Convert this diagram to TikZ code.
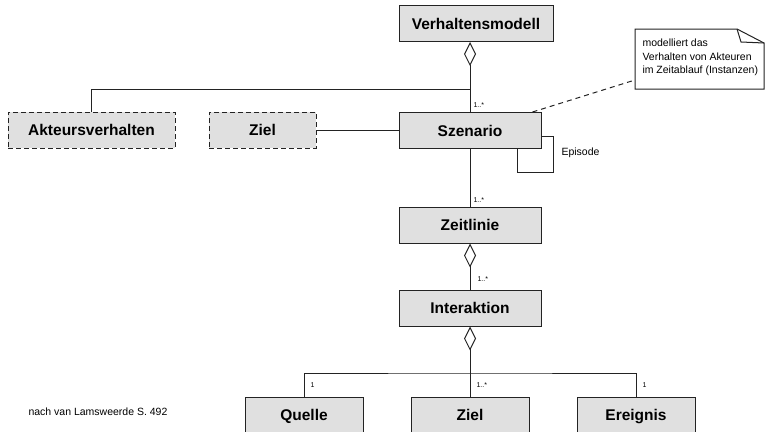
\documentclass[tikz,border=0pt]{standalone}
\usepackage{fontspec}
\setmainfont{Liberation Sans}
\usetikzlibrary{arrows.meta}
\definecolor{boxgray}{RGB}{224,224,224}
\definecolor{linegray}{RGB}{35,35,35}

\tikzset{
  classbox/.style={draw=linegray, fill=boxgray, line width=1pt, minimum height=36pt,
    inner sep=0pt, text height=11pt, text depth=0pt, font=\fontsize{15.5}{18}\selectfont\bfseries},
  dashbox/.style={classbox, dash pattern=on 5pt off 3pt},
  agg/.style={{Diamond[open,length=24pt,width=12pt]}-},
  mult/.style={font=\fontsize{7}{8}\selectfont, anchor=west, inner sep=0pt},
  smalltext/.style={font=\fontsize{10.5}{13.5}\selectfont, anchor=west, inner sep=0pt, align=left},
}

\begin{document}
\begin{tikzpicture}[x=1pt, y=-1pt, line width=1pt, draw=linegray]
\useasboundingbox (0,0) rectangle (765,431);
\clip (0,0) rectangle (765,431);
% classes
\node[classbox, minimum width=154pt] (vm) at (476,23.5) {Verhaltensmodell};
\node[classbox, minimum width=142pt] (sz) at (470,130.5) {Szenario};
\node[dashbox, minimum width=167pt] (av) at (91.5,130) {Akteursverhalten};
\node[dashbox, minimum width=107pt] (zi) at (262.5,130) {Ziel};
\node[classbox, minimum width=142pt] (zl) at (470,225) {Zeitlinie};
\node[classbox, minimum width=142pt] (ia) at (470,308) {Interaktion};
\node[classbox, minimum width=118pt] (qu) at (304,415) {Quelle};
\node[classbox, minimum width=118pt] (zb) at (470,415) {Ziel};
\node[classbox, minimum width=118pt] (er) at (636,415) {Ereignis};

% note
\draw[fill=white] (635,29) -- (737,29) -- (764,43) -- (764,89) -- (635,89) -- cycle;
\draw (737,29) -- (741,42) -- (764,43);
\node[smalltext] (note) at (642,57.5) {modelliert das\\Verhalten von Akteuren\\im Zeitablauf (Instanzen)};
\coordinate (noteleft) at (635,80);
\draw[dash pattern=on 5pt off 4pt] ([xshift=-9pt]sz.north east) -- (noteleft);

% Verhaltensmodell - Szenario / Akteursverhalten
\coordinate (j1) at (470,89);
\draw[agg] (sz.north |- vm.south) -- (sz.north);
\draw (j1) -| (av.north);
\draw (zi.east) -- (zi.east -| sz.west);
\node[mult] (m1) at (473,105) {1..*};

% Episode
\draw (sz.east) ++(0,5.5) -- ++(12,0) -- ++(0,36) -| ([xshift=-24pt]sz.south east);
\node[smalltext] (ep) at (561,153) {Episode};

% Zeitlinie, Interaktion
\draw (sz.south) -- (zl.north);
\node[mult] (m2) at (473,200) {1..*};
\draw[agg] (zl.south) -- (ia.north);
\node[mult] (m3) at (477,279) {1..*};

% Quelle, Ziel, Ereignis
\coordinate (j2) at (470,373);
\draw[agg] (ia.south) -- (j2);
\draw (j2) -- (zb.north);
\draw (qu.north) |- (j2) -| (er.north);
\node[mult] (m4) at (310,385) {1};
\node[mult] (m5) at (476,385) {1..*};
\node[mult] (m6) at (642,385) {1};

\node[smalltext] (src) at (28,412) {nach van Lamsweerde S. 492};
\end{tikzpicture}
\end{document}
